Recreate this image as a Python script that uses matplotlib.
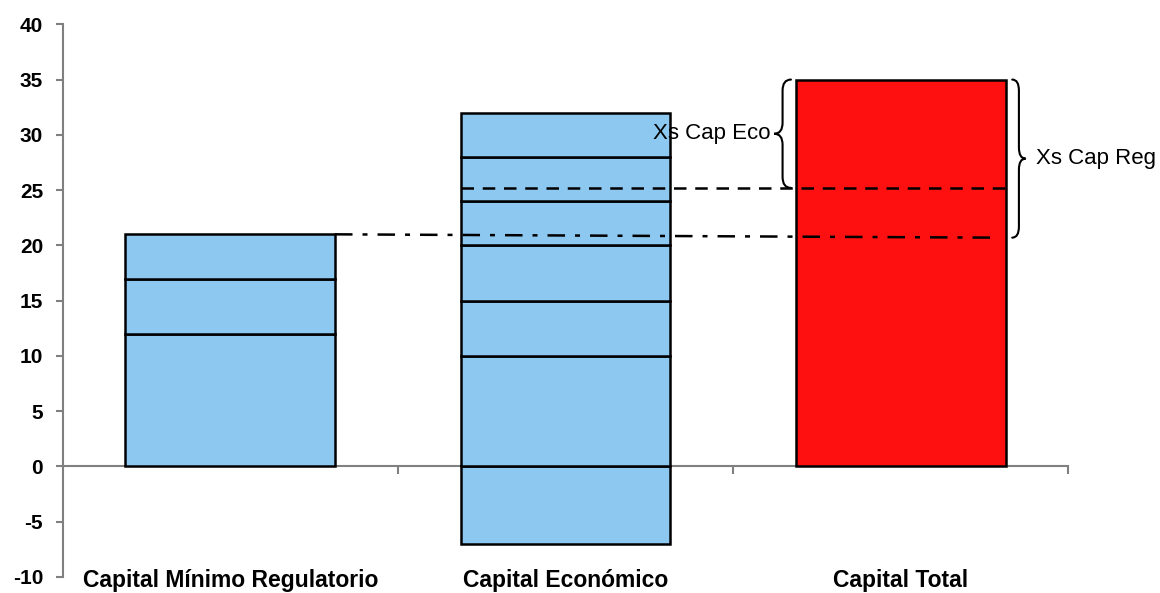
import numpy as np
import matplotlib
matplotlib.use('Agg')
import matplotlib.pyplot as plt
from matplotlib.path import Path
from matplotlib.patches import PathPatch

plt.rcParams['font.family'] = ['Liberation Sans', 'DejaVu Sans']
plt.rcParams['axes.unicode_minus'] = False

categories = ['Capital Mínimo Regulatorio', 'Capital Económico', 'Capital Total']

# stacked blocks per bar: (bottom, top)
reg_blocks = [(0, 12), (12, 17), (17, 21)]
eco_blocks = [(-7, 0), (0, 10), (10, 15), (15, 20), (20, 24), (24, 28), (28, 32)]
total_blocks = [(0, 35)]

reg_level = 21.0      # capital minimo regulatorio
reg_level_end = 20.7
eco_level = 25.2      # capital economico (nivel de referencia)
total_level = 35.0

blue = '#8cc8f0'
red = '#ff1010'
axis_grey = '#808080'
width = 0.625


def brace(ax, x, y0, y1, w, lw=1.5):
    # vertical curly brace, back at x, tip at x + w
    ym = (y0 + y1) / 2.0
    r = min(1.0, (y1 - y0) / 4.0)
    h = x + w / 2.0
    verts = [(x, y1), (h, y1), (h, y1 - r),
             (h, ym + r),
             (h, ym), (x + w, ym),
             (h, ym), (h, ym - r),
             (h, y0 + r),
             (h, y0), (x, y0)]
    codes = [Path.MOVETO, Path.CURVE3, Path.CURVE3,
             Path.LINETO,
             Path.CURVE3, Path.CURVE3,
             Path.CURVE3, Path.CURVE3,
             Path.LINETO,
             Path.CURVE3, Path.CURVE3]
    ax.add_patch(PathPatch(Path(verts, codes), fill=False, lw=lw,
                           edgecolor='black', capstyle='round'))


fig = plt.figure(figsize=(11.6, 5.93), dpi=100)
ax = fig.add_axes([0.054, 0.027, 0.867, 0.932])

for i, (blocks, color) in enumerate([(reg_blocks, blue), (eco_blocks, blue),
                                     (total_blocks, red)]):
    for b, t in blocks:
        ax.bar(i, t - b, bottom=b, width=width, color=color,
               edgecolor='black', linewidth=1.8, zorder=2)

# reference levels
ax.plot([0 + width / 2, 2 + width / 2 - 0.03], [reg_level, reg_level_end],
        color='black', lw=1.8, dashes=[7, 4, 2, 4], zorder=3)
ax.plot([1 - width / 2, 2 + width / 2], [eco_level, eco_level],
        color='black', lw=1.8, dashes=[5, 3.5], zorder=3)

# excess capital braces
brace(ax, 2 - width / 2 - 0.015, eco_level, total_level, -0.05)
ax.text(2 - width / 2 - 0.075, (eco_level + total_level) / 2, 'Xs Cap Eco',
        ha='right', va='center', fontsize=16, zorder=4)
brace(ax, 2 + width / 2 + 0.02, reg_level_end, total_level, 0.04)
ax.text(2 + width / 2 + 0.09, (reg_level_end + total_level) / 2, 'Xs Cap Reg',
        ha='left', va='center', fontsize=16, zorder=4)

ax.set_xlim(-0.5, 2.5)
ax.set_ylim(-10, 40)
ax.set_yticks(np.arange(-10, 41, 5))
ax.set_xticks([0.5, 1.5, 2.5])
ax.set_xticklabels([])

for s in ['top', 'right']:
    ax.spines[s].set_visible(False)
ax.spines['bottom'].set_position(('data', 0))
ax.spines['bottom'].set_zorder(1)
for s in ['left', 'bottom']:
    ax.spines[s].set_color(axis_grey)
    ax.spines[s].set_linewidth(1.5)

ax.tick_params(axis='y', direction='out', length=5, width=1.5, color=axis_grey,
               pad=9, labelsize=15)
ax.tick_params(axis='x', direction='out', length=6, width=1.5, color=axis_grey)
for lab in ax.get_yticklabels():
    lab.set_fontweight('bold')

for i, name in enumerate(categories):
    ax.text(i, -10.3, name, ha='center', va='center', fontsize=16.5,
            fontweight='bold')

plt.savefig('out.png', dpi=100)
